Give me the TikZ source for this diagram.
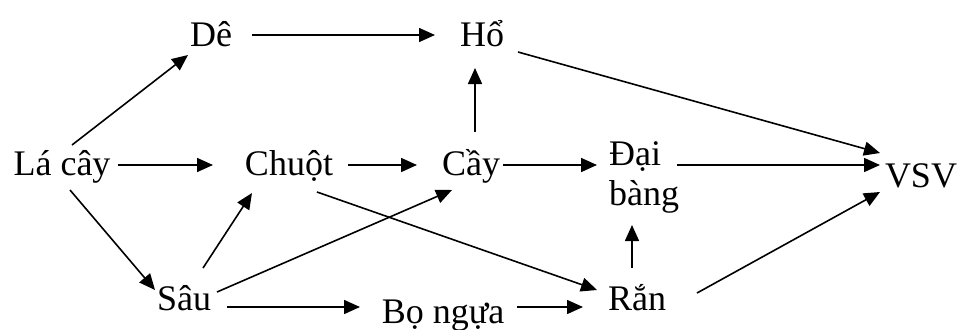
\documentclass[tikz,border=0pt]{standalone}
\usepackage{fontspec}
\setmainfont{Liberation Serif}
\usetikzlibrary{arrows.meta}
\begin{document}
\begin{tikzpicture}[x=1pt,y=-1pt,
  lbl/.style={inner sep=0pt,anchor=base,font=\fontsize{36}{40}\selectfont},
  arr/.style={line width=1.6pt,-{Triangle[length=16pt,width=14pt]}}]
\useasboundingbox (0,0) rectangle (957,329);
\node[lbl] (lacay) at (62,175) {Lá cây};
\node[lbl] (de) at (211,47) {Dê};
\node[lbl] (ho) at (482,47) {Hổ};
\node[lbl] (chuot) at (289,175) {Chuột};
\node[lbl] (cay) at (471,175) {Cầy};
\node[lbl,anchor=base west,align=left] (daibang) at (609,205) {Đại\\bàng};
\node[lbl] (vsv) at (921,187) {VSV};
\node[lbl] (sau) at (184,310) {Sâu};
\node[lbl] (bongua) at (443,323) {Bọ ngựa};
\node[lbl] (ran) at (637,310) {Rắn};
\draw[arr] ([shift={(10,-30)}]lacay.base) -- ([shift={(-23,8)}]de.base);
\draw[arr] ([shift={(41,-12)}]de.base) -- ([shift={(-47,-12)}]ho.base);
\draw[arr] ([shift={(36,5)}]ho.base) -- ([shift={(-41,-34)}]vsv.base);
\draw[arr] ([shift={(56,-10)}]lacay.base) -- ([shift={(-76,-10)}]chuot.base);
\draw[arr] ([shift={(59,-10)}]chuot.base) -- ([shift={(-54,-10)}]cay.base);
\draw[arr] ([shift={(4,-43)}]cay.base) -- ([shift={(-7,21)}]ho.base);
\draw[arr] ([shift={(32,-10)}]cay.base) -- ([shift={(-12,-40)}]daibang.base west);
\draw[arr] ([shift={(68,-40)}]daibang.base west) -- ([shift={(-41,-22)}]vsv.base);
\draw[arr] ([shift={(8,15)}]lacay.base) -- ([shift={(-29,-20)}]sau.base);
\draw[arr] ([shift={(19,-42)}]sau.base) -- ([shift={(-37,18)}]chuot.base);
\draw[arr] ([shift={(33,-18)}]sau.base) -- ([shift={(-19,15)}]cay.base);
\draw[arr] ([shift={(28,17)}]chuot.base) -- ([shift={(-40,-20)}]ran.base);
\draw[arr] ([shift={(43,-3)}]sau.base) -- ([shift={(-83,-16)}]bongua.base);
\draw[arr] ([shift={(74,-16)}]bongua.base) -- ([shift={(-54,-3)}]ran.base);
\draw[arr] ([shift={(-5,-42)}]ran.base) -- ([shift={(23,20)}]daibang.base west);
\draw[arr] ([shift={(60,-17)}]ran.base) -- ([shift={(-41,5)}]vsv.base);
\end{tikzpicture}
\end{document}
